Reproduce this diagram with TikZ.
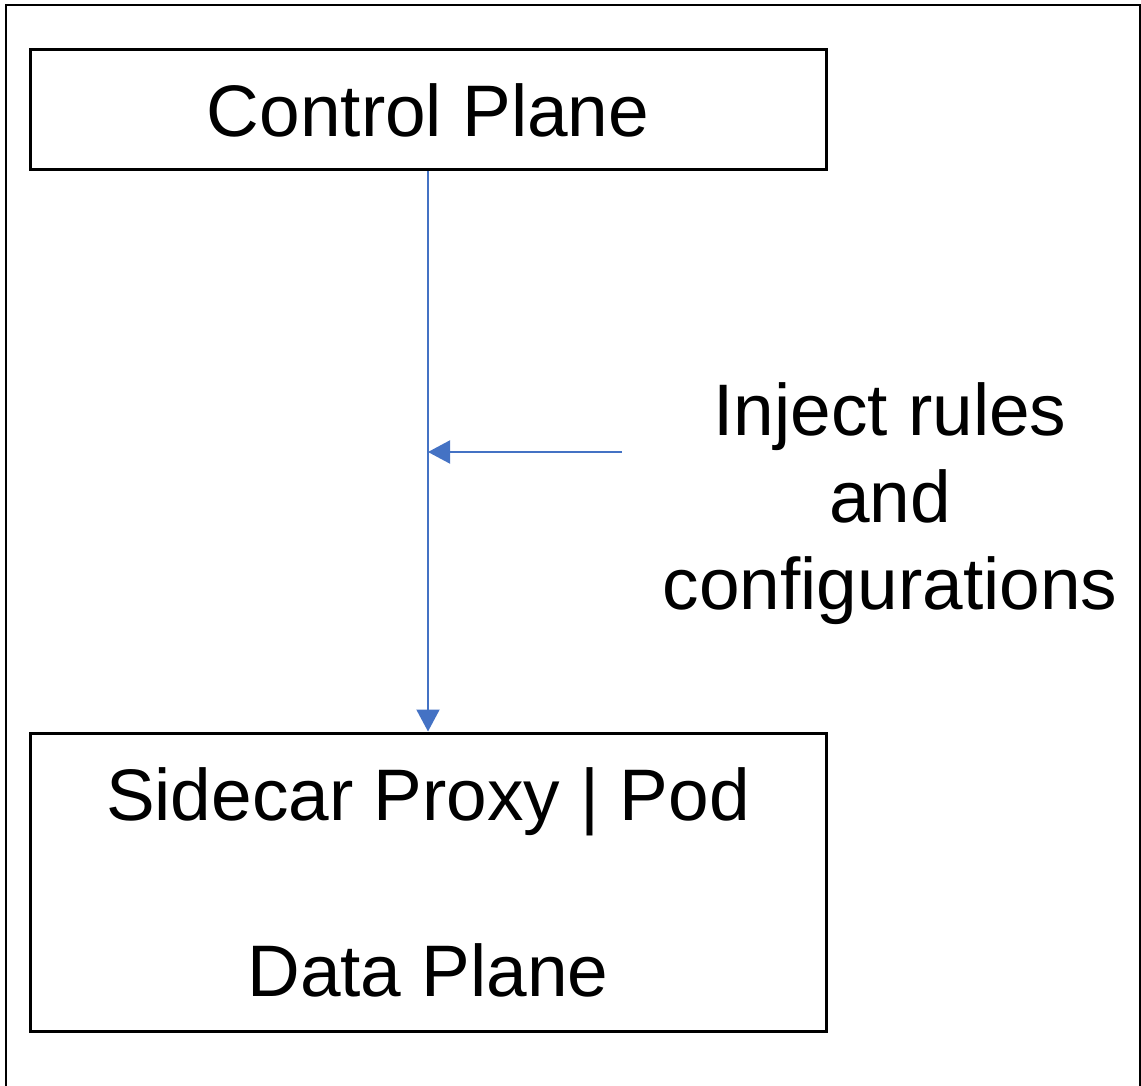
\documentclass[tikz,border=0pt]{standalone}
\usepackage{fontspec}
\setmainfont{Liberation Sans}
\usetikzlibrary{arrows.meta}
\definecolor{arrowblue}{HTML}{4472C4}
\tikzset{
  planebox/.style={draw=black, line width=3pt, inner sep=0pt, align=center,
    font=\fontsize{73}{87}\selectfont},
  flow/.style={draw=arrowblue, line width=2pt, -{Triangle[length=22pt,width=23pt]}},
  label/.style={inner sep=0pt, align=center, font=\fontsize{73}{87}\selectfont},
  frame/.style={draw=black, line width=2pt}
}
\begin{document}
\begin{tikzpicture}[x=1pt, y=-1pt]
\useasboundingbox (0,0) rectangle (1141,1086);
\draw[frame] (6,1090) -- (6,5) -- (1140,5) -- (1140,1090);
\node[planebox, minimum width=796pt, minimum height=120pt] (cp) at (428,110) {Control Plane};
\node[planebox, minimum width=796pt, minimum height=298pt] (dp) at (428,882) {Sidecar Proxy | Pod\\[89pt]Data Plane};
\node[label] (inj) at (890,504) {Inject rules\\and\\configurations};
\coordinate (src) at (622,452);
\coordinate (hit) at (cp.south |- src);
\draw[flow] (cp.south) -- (dp.north);
\draw[flow] (src) -- (hit);
\end{tikzpicture}
\end{document}
